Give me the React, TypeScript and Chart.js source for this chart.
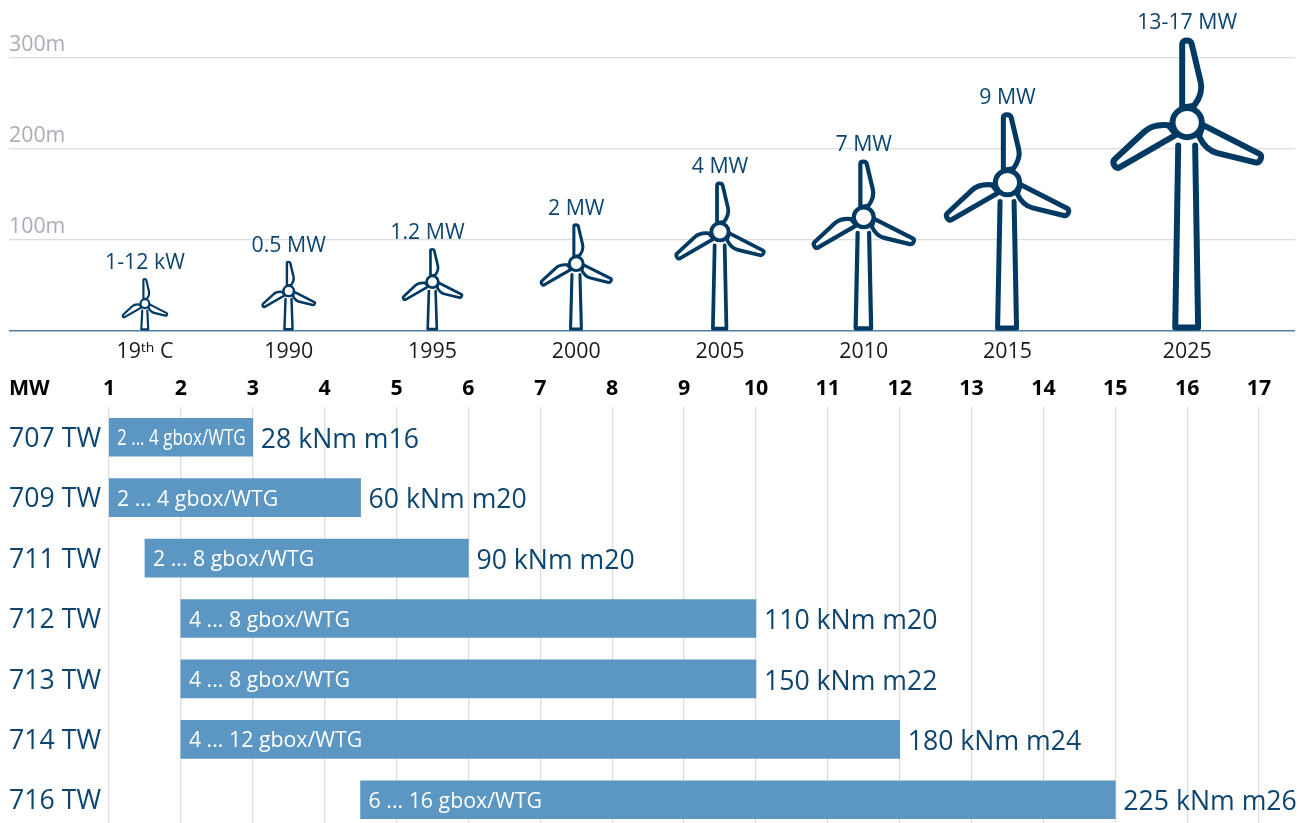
import React, { useEffect, useRef } from "react";
import { Chart, registerables } from "chart.js";

Chart.register(...registerables);

const FONT = "'Open Sans','Noto Sans',sans-serif";
const NAVY = "#003a63";
const TEXT_NAVY = "#0c4670";

// Turbine timeline: x is placed on the MW scale shared with the lower chart
const turbinePositions = [1.5, 3.5, 5.5, 7.5, 9.5, 11.5, 13.5, 16];
const tipHeights = [58, 77, 91, 118, 164, 188, 240, 322];
const hubHeights = [30, 44, 54, 74, 109, 125, 163, 229];
const powerLabels = ["1-12 kW", "0.5 MW", "1.2 MW", "2 MW", "4 MW", "7 MW", "9 MW", "13-17 MW"];
const yearLabels = ["19ᵗʰ C", "1990", "1995", "2000", "2005", "2010", "2015", "2025"];
const heightTicks = [0, 100, 200, 300];

// Gearbox models
const models = ["707 TW", "709 TW", "711 TW", "712 TW", "713 TW", "714 TW", "716 TW"];
const mwStart = [1, 1, 1.5, 2, 2, 2, 4.5];
const mwEnd = [3, 4.5, 6, 10, 10, 12, 15];
const gboxLabels = [
  "2 ... 4 gbox/WTG",
  "2 ... 4 gbox/WTG",
  "2 ... 8 gbox/WTG",
  "4 ... 8 gbox/WTG",
  "4 ... 8 gbox/WTG",
  "4 ... 12 gbox/WTG",
  "6 ... 16 gbox/WTG",
];
const torqueLabels = [
  "28 kNm m16",
  "60 kNm m20",
  "90 kNm m20",
  "110 kNm m20",
  "150 kNm m22",
  "180 kNm m24",
  "225 kNm m26",
];
const mwTicks = [1, 2, 3, 4, 5, 6, 7, 8, 9, 10, 11, 12, 13, 14, 15, 16, 17];

const zeroPadding = (s: any) => {
  s.paddingTop = 0;
  s.paddingBottom = 0;
  s.paddingLeft = 0;
  s.paddingRight = 0;
};

function drawTurbine(ctx: CanvasRenderingContext2D, x: number, hubY: number, tipY: number, baseY: number) {
  const R = hubY - tipY;
  const k = R / 85;
  const lw = 0.5 + 5.5 * k;
  ctx.save();
  ctx.lineWidth = lw;
  ctx.strokeStyle = NAVY;
  ctx.fillStyle = "#ffffff";
  ctx.lineJoin = "round";
  ctx.lineCap = "round";

  // tower
  const bottom = baseY - lw / 2 - 0.5;
  const topY = hubY + 23 * k;
  ctx.beginPath();
  ctx.moveTo(x - 9 * k, topY);
  ctx.lineTo(x - 12 * k, bottom);
  ctx.lineTo(x + 11 * k, bottom);
  ctx.lineTo(x + 8 * k, topY);
  ctx.fill();
  ctx.stroke();

  // blades: rotation in degrees and a length factor for each
  for (const [deg, len] of [[0, 1], [117, 1], [240, 1.03]]) {
    ctx.save();
    ctx.translate(x, hubY);
    ctx.rotate((deg * Math.PI) / 180);
    ctx.scale(k, k * len);
    ctx.lineWidth = lw / k;
    ctx.beginPath();
    ctx.moveTo(-5, -15);
    ctx.lineTo(-5, -79);
    ctx.bezierCurveTo(-5, -83.5, 3.5, -83.5, 4.5, -79);
    ctx.lineTo(13.5, -41);
    ctx.bezierCurveTo(15.5, -33, 13, -25, 7, -17);
    ctx.closePath();
    ctx.fill();
    ctx.stroke();
    ctx.restore();
  }

  // hub
  ctx.beginPath();
  ctx.arc(x, hubY, 14.7 * k, 0, Math.PI * 2);
  ctx.fill();
  ctx.stroke();
  ctx.restore();
}

const turbinePlugin = {
  id: "turbines",
  afterDatasetsDraw(chart: any) {
    const { ctx, scales } = chart;
    const baseY = scales.y.getPixelForValue(0);
    const tips = chart.getDatasetMeta(0).data;
    const hubs = chart.getDatasetMeta(1).data;
    tips.forEach((tip: any, i: number) => {
      drawTurbine(ctx, tip.x, hubs[i].y, tip.y, baseY);
      ctx.save();
      ctx.font = `21.33px ${FONT}`;
      ctx.fillStyle = TEXT_NAVY;
      ctx.textAlign = "center";
      ctx.textBaseline = "middle";
      // the 1.2 MW label sits a little left of its turbine in the reference
      ctx.fillText(powerLabels[i], tip.x - (i === 2 ? 5 : 0), tip.y - 15);
      ctx.restore();
    });
  },
};

const barTextPlugin = {
  id: "barText",
  afterDatasetsDraw(chart: any) {
    const { ctx } = chart;
    const bars = chart.getDatasetMeta(0).data;
    ctx.save();
    ctx.textBaseline = "middle";
    ctx.textAlign = "left";
    bars.forEach((bar: any, i: number) => {
      ctx.font = `21.33px ${FONT}`;
      ctx.fillStyle = "#ffffff";
      ctx.fillText(gboxLabels[i], bar.base + 8, bar.y + 2, bar.x - bar.base - 15);
      ctx.font = `26.67px ${FONT}`;
      ctx.fillStyle = TEXT_NAVY;
      ctx.fillText(torqueLabels[i], bar.x + 8, bar.y + 3);
    });
    ctx.font = `bold 21.33px ${FONT}`;
    ctx.fillStyle = "#000000";
    ctx.fillText("MW", 9, 19);
    ctx.restore();
  },
};

export default function App() {
  const topRef = useRef<HTMLCanvasElement>(null);
  const bottomRef = useRef<HTMLCanvasElement>(null);

  useEffect(() => {
    const top = new Chart(topRef.current as HTMLCanvasElement, {
      type: "scatter",
      data: {
        datasets: [
          {
            label: "Tip height",
            data: turbinePositions.map((x, i) => ({ x, y: tipHeights[i] })),
            pointRadius: 0,
          },
          {
            label: "Hub height",
            data: turbinePositions.map((x, i) => ({ x, y: hubHeights[i] })),
            pointRadius: 0,
          },
        ],
      },
      options: {
        animation: false,
        responsive: false,
        layout: { padding: { left: 9, right: 13, top: 0, bottom: 0 } },
        plugins: { legend: { display: false }, tooltip: { enabled: false } },
        scales: {
          x: {
            type: "linear",
            min: -0.391,
            max: 17.5,
            grid: { display: false },
            border: { display: false },
            afterBuildTicks: (s: any) => {
              s.ticks = turbinePositions.map((value) => ({ value }));
            },
            afterFit: (s: any) => {
              s.height = 39;
              zeroPadding(s);
            },
            ticks: {
              autoSkip: false,
              maxRotation: 0,
              padding: 0,
              color: "#1a1a1a",
              font: { family: FONT, size: 21.33 },
              callback: (_v: any, i: number) => yearLabels[i],
            },
          },
          y: {
            type: "linear",
            min: 0,
            max: 363.7,
            border: { display: false },
            afterBuildTicks: (s: any) => {
              s.ticks = heightTicks.map((value) => ({ value }));
            },
            afterFit: (s: any) => {
              s.width = 0;
              zeroPadding(s);
            },
            grid: {
              drawTicks: false,
              color: (c: any) => (c.tick && c.tick.value === 0 ? "#4f7fa3" : "#dcdcdc"),
              lineWidth: (c: any) => (c.tick && c.tick.value === 0 ? 1.5 : 1.2),
            },
            ticks: {
              mirror: true,
              padding: 0,
              labelOffset: -13,
              color: "#a9adb5",
              font: { family: FONT, size: 21.33 },
              callback: (v: any) => (v === 0 ? "" : `${v}m`),
            },
          },
        },
      },
      plugins: [turbinePlugin],
    } as any);

    const bottom = new Chart(bottomRef.current as HTMLCanvasElement, {
      type: "bar",
      data: {
        labels: models,
        datasets: [
          {
            label: "Rated power range (MW)",
            data: mwStart.map((s, i) => [s, mwEnd[i]]),
            backgroundColor: "#5b97c2",
            barThickness: 38,
          },
        ],
      },
      options: {
        indexAxis: "y",
        animation: false,
        responsive: false,
        layout: { padding: { left: 0, right: 13, top: 0, bottom: 0 } },
        plugins: { legend: { display: false }, tooltip: { enabled: false } },
        scales: {
          x: {
            type: "linear",
            position: "top",
            min: 1,
            max: 17.5,
            border: { display: false },
            afterBuildTicks: (s: any) => {
              s.ticks = mwTicks.map((value) => ({ value }));
            },
            afterFit: (s: any) => {
              s.height = 37;
              zeroPadding(s);
            },
            grid: { color: "#dedede", lineWidth: 1.3, drawTicks: false },
            ticks: {
              autoSkip: false,
              maxRotation: 0,
              padding: 5,
              color: "#000000",
              font: { family: FONT, size: 21.33, weight: "bold" },
            },
          },
          y: {
            type: "category",
            border: { display: false },
            afterFit: (s: any) => {
              s.width = 109;
              zeroPadding(s);
            },
            grid: { display: false, drawTicks: false },
            ticks: {
              padding: 8,
              labelOffset: 2,
              color: TEXT_NAVY,
              font: { family: FONT, size: 26.67 },
            },
          },
        },
      },
      plugins: [barTextPlugin],
    } as any);

    return () => {
      top.destroy();
      bottom.destroy();
    };
  }, []);

  return (
    <div
      style={{
        position: "fixed",
        left: 0,
        top: 0,
        width: 1308,
        height: 823,
        overflow: "hidden",
        background: "#ffffff",
      }}
    >
      <canvas ref={topRef} width={1308} height={370} style={{ position: "absolute", left: 0, top: 0, width: 1308, height: 370 }} />
      <canvas ref={bottomRef} width={1308} height={460} style={{ position: "absolute", left: 0, top: 370, width: 1308, height: 460 }} />
    </div>
  );
}
